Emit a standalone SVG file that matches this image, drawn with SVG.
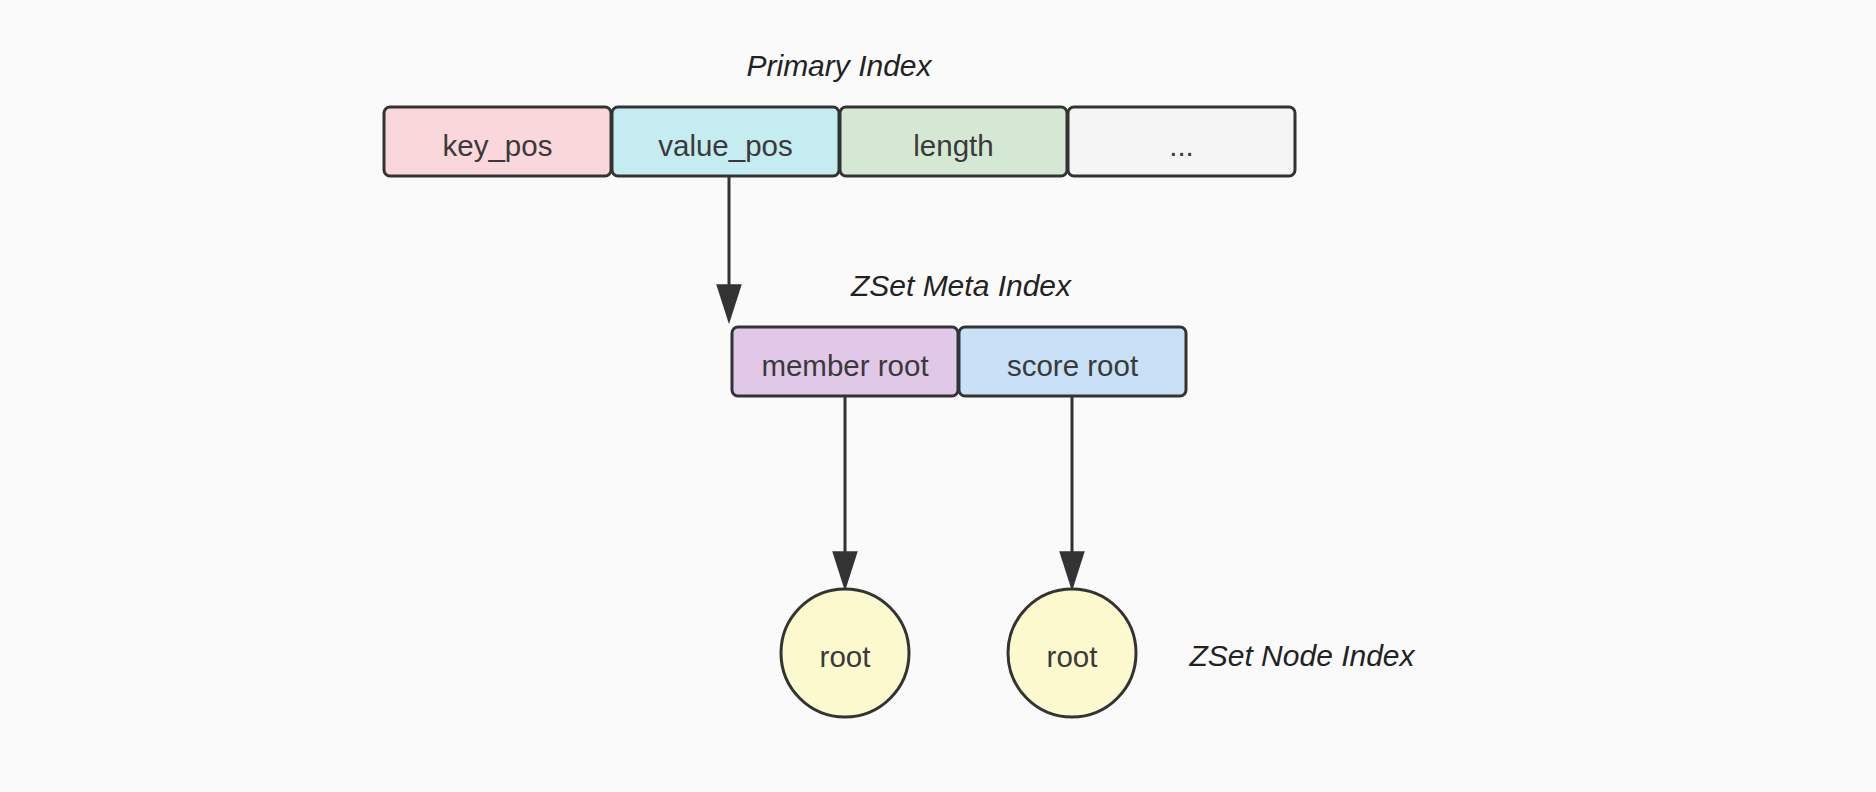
<svg xmlns="http://www.w3.org/2000/svg" width="1876" height="792" viewBox="0 0 1876 792">
<defs>
<style>
.bg{fill:#fafafa}
.box{stroke:#333;stroke-width:3}
.lbl{font-family:"Liberation Sans",Arial,sans-serif;font-size:29.5px;fill:#3a3a3a;text-anchor:middle}
.ttl{font-family:"Liberation Sans",Arial,sans-serif;font-size:30px;font-style:italic;fill:#222;text-anchor:middle}
.edge{stroke:#333;stroke-width:3;fill:none}
</style>
<marker id="arr" markerUnits="userSpaceOnUse" markerWidth="40" markerHeight="26" refX="16" refY="11.5" orient="auto" viewBox="0 0 36 23">
<path d="M0,0 L36,11.5 L0,23 z" fill="#333"/>
</marker>
</defs>
<rect class="bg" x="0" y="0" width="1876" height="792"/>

<text class="ttl" x="839" y="76">Primary Index</text>
<text class="ttl" x="961" y="296">ZSet Meta Index</text>
<text class="ttl" x="1302" y="666">ZSet Node Index</text>

<g id="connectors">
<line class="edge" x1="729" y1="177" x2="729" y2="302" marker-end="url(#arr)"/>
<line class="edge" x1="845" y1="397" x2="845" y2="569" marker-end="url(#arr)"/>
<line class="edge" x1="1072" y1="397" x2="1072" y2="569" marker-end="url(#arr)"/>
</g>

<g id="key_pos">
<rect class="box" x="384" y="107" width="227" height="69" rx="6" fill="#fad7da"/>
<text class="lbl" x="497.5" y="156">key_pos</text>
</g>
<g id="value_pos">
<rect class="box" x="612" y="107" width="227" height="69" rx="6" fill="#c4ecf1"/>
<text class="lbl" x="725.5" y="156">value_pos</text>
</g>
<g id="length">
<rect class="box" x="840" y="107" width="227" height="69" rx="6" fill="#d5e8d4"/>
<text class="lbl" x="953.5" y="156">length</text>
</g>
<g id="more">
<rect class="box" x="1068" y="107" width="227" height="69" rx="6" fill="#f5f5f5"/>
<text class="lbl" x="1181.5" y="156">...</text>
</g>

<g id="member_root">
<rect class="box" x="732" y="327" width="226" height="69" rx="6" fill="#e1c8e8"/>
<text class="lbl" x="845" y="376">member root</text>
</g>
<g id="score_root">
<rect class="box" x="959" y="327" width="227" height="69" rx="6" fill="#c9e1f6"/>
<text class="lbl" x="1072.5" y="376">score root</text>
</g>

<g id="root_member">
<ellipse class="box" cx="845" cy="653" rx="64" ry="64" fill="#fcf9cf"/>
<text class="lbl" x="845" y="667">root</text>
</g>
<g id="root_score">
<ellipse class="box" cx="1072" cy="653" rx="64" ry="64" fill="#fcf9cf"/>
<text class="lbl" x="1072" y="667">root</text>
</g>
</svg>
